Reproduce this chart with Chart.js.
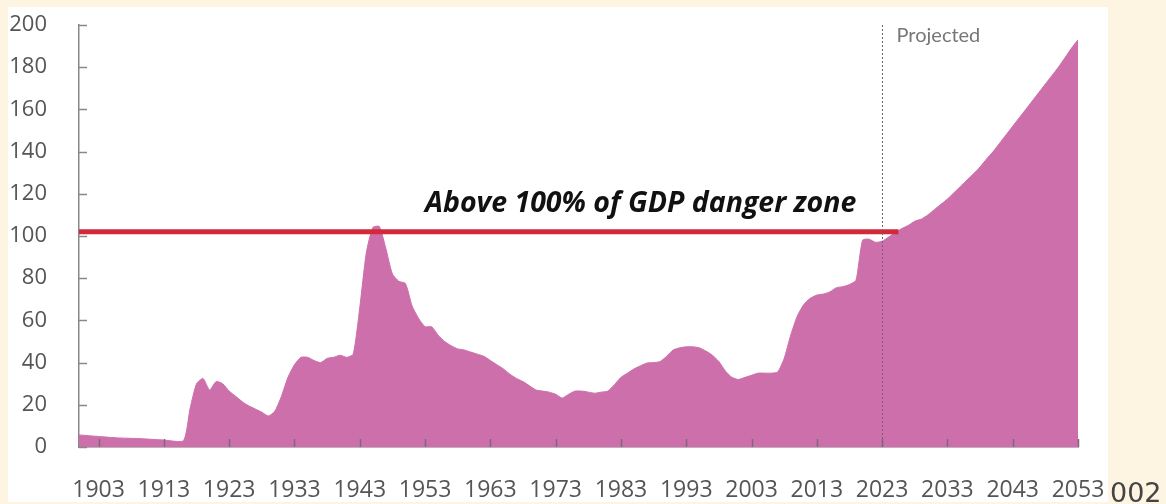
<!DOCTYPE html>
<html>
<head>
<meta charset="utf-8">
<script src="https://cdn.jsdelivr.net/npm/chart.js@4.4.1/dist/chart.umd.min.js"></script>
<style>
  html, body { margin: 0; padding: 0; background: #fdf4e1; }
  canvas { display: block; }
</style>
</head>
<body>
<canvas id="debtChart" width="1166" height="504"></canvas>
<script>
// Debt held by the public, % of GDP
const years = [
  1900, 1903, 1906, 1909, 1913, 1916, 1917, 1918, 1919, 1920, 1921, 1922, 1923, 1924, 1925,
  1926, 1927, 1928, 1929, 1930, 1931, 1932, 1933, 1934, 1935, 1936, 1937, 1938, 1939, 1940,
  1941, 1942, 1943, 1944, 1945, 1946, 1947, 1948, 1949, 1950, 1951, 1952, 1953, 1954, 1955,
  1956, 1957, 1958, 1959, 1960, 1961, 1962, 1963, 1964, 1965, 1966, 1967, 1968, 1969, 1970,
  1971, 1972, 1973, 1974, 1975, 1976, 1977, 1978, 1979, 1980, 1981, 1982, 1983, 1984, 1985,
  1986, 1987, 1988, 1989, 1990, 1991, 1992, 1993, 1994, 1995, 1996, 1997, 1998, 1999, 2000,
  2001, 2002, 2003, 2004, 2005, 2006, 2007, 2008, 2009, 2010, 2011, 2012, 2013, 2014, 2015,
  2016, 2017, 2018, 2019, 2020, 2021, 2022, 2023, 2024, 2025, 2026, 2027, 2028, 2029, 2030,
  2031, 2032, 2033, 2034, 2035, 2036, 2037, 2038, 2039, 2040, 2041, 2042, 2043, 2044, 2045,
  2046, 2047, 2048, 2049, 2050, 2051, 2052, 2053
];
const debt = [
  5.7, 5, 4.3, 4, 3.3, 3, 18, 30, 32.5, 27, 31, 30, 26.5, 24, 21.5,
  19.5, 18, 16.5, 14.7, 17, 24, 33, 39, 42.5, 42.5, 41, 40, 42, 42.5, 43.5,
  42.5, 44, 66, 92, 104, 104.5, 94, 82, 78.5, 77.5, 67, 61, 57, 57, 53,
  50, 48, 46.5, 46, 45, 44, 43, 41, 39, 37, 34.5, 32.5, 31, 29, 27,
  26.5, 26, 25, 23.2, 25, 26.5, 26.5, 26, 25.5, 26, 26.5, 29.5, 33, 35, 37,
  38.5, 39.8, 40, 40.5, 43, 46, 47, 47.5, 47.5, 47, 45.5, 43.5, 40.5, 36, 33,
  32, 33, 34, 35, 35, 35, 35.5, 42, 53, 62, 67.5, 70.5, 72, 72.5, 73.5,
  75.5, 76, 77, 79, 98, 98.5, 97, 97.5, 99.5, 101.5, 103.5, 105, 107, 108, 110,
  112.5, 115, 117.5, 120.5, 123.5, 126.5, 129.5, 132.7, 136.5, 140, 144, 148, 152, 156, 160,
  164, 168, 172, 176, 180, 184.5, 189, 193
];
const xTickYears = [1903, 1913, 1923, 1933, 1943, 1953, 1963, 1973, 1983, 1993, 2003, 2013, 2023, 2033, 2043, 2053];
const yTickValues = [0, 20, 40, 60, 80, 100, 120, 140, 160, 180, 200];

const dangerLevel = 102;
const dangerFrom = 1900;
const dangerTo = 2025.5;
const projectionStart = 2023;
const dangerText = "Above 100% of GDP danger zone";
const projectedText = "Projected";
const strayText = "002";

const areaPoints = years.map((yr, i) => ({ x: yr, y: debt[i] }));
const dangerPoints = [{ x: dangerFrom, y: dangerLevel }, { x: dangerTo, y: dangerLevel }];

// cream page + white panel
const panelBg = {
  id: "panelBg",
  beforeDraw(chart) {
    const ctx = chart.ctx;
    ctx.save();
    ctx.fillStyle = "#fdf4e1";
    ctx.fillRect(0, 0, chart.width, chart.height);
    ctx.fillStyle = "#ffffff";
    ctx.fillRect(8, 7, 1100, 495);
    ctx.restore();
  }
};

// inward tick marks, projection divider and texts
const extras = {
  id: "extras",
  afterDraw(chart) {
    const ctx = chart.ctx;
    const xs = chart.scales.x, ys = chart.scales.y;
    const area = chart.chartArea;
    ctx.save();

    // tick marks
    ctx.strokeStyle = "#7d6a78";
    ctx.lineWidth = 1.5;
    xTickYears.forEach(v => {
      const px = Math.round(xs.getPixelForValue(v)) + 0.5;
      ctx.beginPath();
      ctx.moveTo(px, area.bottom);
      ctx.lineTo(px, area.bottom - 8);
      ctx.stroke();
    });
    ctx.strokeStyle = "#888";
    yTickValues.forEach(v => {
      const py = Math.round(ys.getPixelForValue(v)) + 0.5;
      ctx.beginPath();
      ctx.moveTo(area.left, py);
      ctx.lineTo(area.left + 8, py);
      ctx.stroke();
    });

    // projection divider
    const px = Math.round(xs.getPixelForValue(projectionStart)) + 0.5;
    ctx.strokeStyle = "#6e6272";
    ctx.lineWidth = 1;
    ctx.setLineDash([2, 2]);
    ctx.beginPath();
    ctx.moveTo(px, area.top);
    ctx.lineTo(px, area.bottom);
    ctx.stroke();
    ctx.setLineDash([]);

    ctx.fillStyle = "#777";
    ctx.font = '20px "Lato"';
    ctx.textBaseline = "alphabetic";
    ctx.textAlign = "left";
    ctx.fillText(projectedText, px + 14, 42);

    // danger zone label
    ctx.fillStyle = "#111";
    ctx.font = 'italic bold 28.5px "Open Sans"';
    ctx.fillText(dangerText, xs.getPixelForValue(1953), ys.getPixelForValue(111.5));

    // stray label at bottom right
    ctx.fillStyle = "#444";
    ctx.font = '27px "DejaVu Sans"';
    ctx.fillText(strayText, 1110, 502);
    ctx.restore();
  }
};

new Chart(document.getElementById("debtChart"), {
  type: "line",
  data: {
    datasets: [
      {
        data: dangerPoints,
        borderColor: "#d22a3a",
        borderWidth: 5,
        pointRadius: 0,
        fill: false,
        order: 0
      },
      {
        data: areaPoints,
        borderColor: "#cc6fab",
        backgroundColor: "#cc6fab",
        borderWidth: 1,
        pointRadius: 0,
        tension: 0.2,
        fill: "origin",
        order: 1
      }
    ]
  },
  options: {
    responsive: false,
    animation: false,
    devicePixelRatio: 1,
    layout: { padding: { top: 25, right: 88, left: 0, bottom: 0 } },
    plugins: { legend: { display: false }, tooltip: { enabled: false } },
    scales: {
      x: {
        type: "linear",
        min: 1900,
        max: 2053,
        z: 1,
        afterBuildTicks: scale => { scale.ticks = xTickYears.map(v => ({ value: v })); },
        afterFit: scale => {
          scale.height = 57;
          scale.paddingLeft = 0;
          scale.paddingRight = 0;
        },
        grid: { display: false, drawTicks: false },
        border: { display: true, color: "#7d6a78", width: 1.5 },
        ticks: {
          padding: 30,
          maxRotation: 0,
          autoSkip: false,
          color: "#555",
          font: { family: "Open Sans", size: 23 },
          callback: v => String(v)
        }
      },
      y: {
        min: 0,
        max: 200,
        z: 1,
        afterBuildTicks: scale => { scale.ticks = yTickValues.map(v => ({ value: v })); },
        afterFit: scale => {
          scale.width = 79;
          scale.paddingTop = 0;
          scale.paddingBottom = 0;
        },
        grid: { display: false, drawTicks: false },
        border: { display: true, color: "#888", width: 1.5 },
        ticks: {
          padding: 32,
          color: "#555",
          font: { family: "Open Sans", size: 22 },
          callback: v => String(v)
        }
      }
    }
  },
  plugins: [panelBg, extras]
});
</script>
</body>
</html>
